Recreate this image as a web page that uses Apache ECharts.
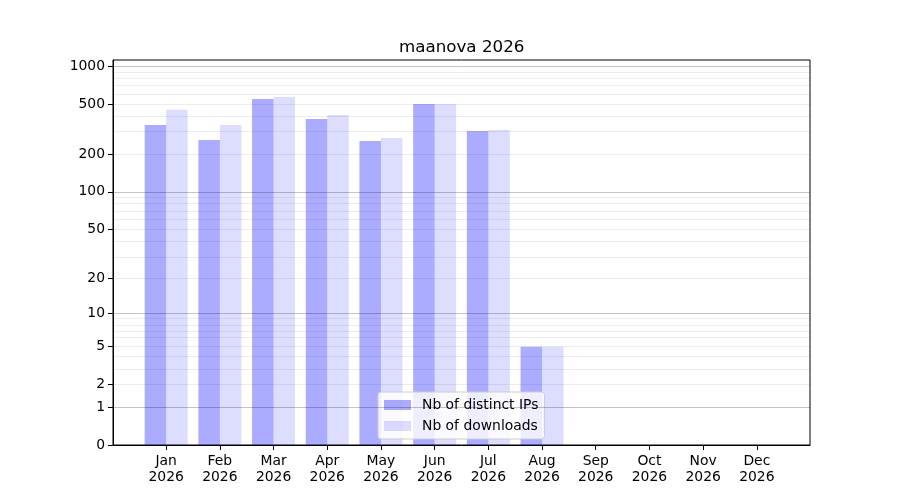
<!DOCTYPE html>
<html>
<head>
<meta charset="utf-8">
<title>maanova 2026</title>
<script src="https://cdn.jsdelivr.net/npm/echarts@6/dist/echarts.min.js"></script>
<style>
  html, body { margin: 0; padding: 0; background: #fff; }
  #chart { width: 900px; height: 500px; }
</style>
</head>
<body>
<div id="chart"></div>
<script>
// months on the x axis
const months = ['Jan', 'Feb', 'Mar', 'Apr', 'May', 'Jun', 'Jul', 'Aug', 'Sep', 'Oct', 'Nov', 'Dec'];
const yearLabel = '2026';

// values
const distinctIps = [341, 259, 548, 380, 254, 500, 305, 5, 0, 0, 0, 0];
const downloads = [449, 341, 568, 409, 269, 500, 311, 5, 0, 0, 0, 0];

// y tick labels and grid lines (raw values, axis is log10(1 + v))
const yTicks = [0, 1, 2, 5, 10, 20, 50, 100, 200, 500, 1000];
const majorGrid = [1, 10, 100, 1000];
const minorGrid = [2, 3, 4, 5, 6, 7, 8, 9, 20, 30, 40, 50, 60, 70, 80, 90,
                   200, 300, 400, 500, 600, 700, 800, 900];

// scale helpers
const toAxis = v => Math.log10(1 + v);
const fromAxis = v => Math.round(Math.pow(10, v) - 1);

const font = 'DejaVu Sans';
const chart = echarts.init(document.getElementById('chart'));

// translucent so they darken the bars a little, like the original
const gridLines = [
  ...minorGrid.map(v => ({ yAxis: toAxis(v), lineStyle: { color: 'rgba(0,0,0,0.075)', width: 1, type: 'solid' } })),
  ...majorGrid.map(v => ({ yAxis: toAxis(v), lineStyle: { color: 'rgba(0,0,0,0.23)', width: 1, type: 'solid' } }))
];

const option = {
  animation: false,
  textStyle: { fontFamily: font },
  title: {
    text: 'maanova 2026',
    left: 394,
    top: 34,
    textStyle: { fontFamily: font, fontSize: 16.7, fontWeight: 'normal', color: '#000' }
  },
  grid: {
    left: 113, right: 90, top: 60, bottom: 55,
    show: true, borderColor: '#000', borderWidth: 1, backgroundColor: 'transparent'
  },
  legend: {
    orient: 'vertical',
    left: 378,
    top: 392,
    icon: 'rect',
    itemWidth: 27,
    itemHeight: 10,
    itemGap: 7,
    padding: [6, 6, 6, 6],
    borderColor: '#cccccc',
    borderWidth: 1,
    borderRadius: 3,
    backgroundColor: 'rgba(255,255,255,0.8)',
    textStyle: { fontFamily: font, fontSize: 13.9, color: '#000', padding: [0, 0, 0, 6] },
    data: ['Nb of distinct IPs', 'Nb of downloads']
  },
  xAxis: {
    type: 'value',
    min: -0.99,
    max: 11.99,
    splitLine: { show: false },
    axisLine: { show: true, onZero: false, lineStyle: { color: '#000', width: 1 } },
    axisTick: {
      show: true, length: 5, inside: false,
      customValues: months.map((m, i) => i),
      lineStyle: { color: '#000' }
    },
    axisLabel: {
      customValues: months.map((m, i) => i),
      formatter: v => months[Math.round(v)] + '\n' + yearLabel,
      fontFamily: font, fontSize: 13.9, color: '#000', lineHeight: 16, margin: 8
    }
  },
  yAxis: {
    type: 'value',
    min: 0,
    max: 3.048,
    splitLine: { show: false },
    axisLine: { show: true, onZero: false, lineStyle: { color: '#000', width: 1 } },
    axisTick: {
      show: true, length: 5, inside: false,
      customValues: yTicks.map(toAxis),
      lineStyle: { color: '#000' }
    },
    axisLabel: {
      customValues: yTicks.map(toAxis),
      formatter: v => String(fromAxis(v)),
      fontFamily: font, fontSize: 13.9, color: '#000', margin: 8
    }
  },
  series: [
    {
      // only carries the grid lines
      name: 'grid',
      type: 'line',
      data: [],
      silent: true,
      markLine: { symbol: 'none', silent: true, label: { show: false }, data: gridLines }
    },
    {
      name: 'Nb of distinct IPs',
      type: 'bar',
      barWidth: 21.5,
      barGap: '0%',
      itemStyle: { color: 'rgba(0,0,255,0.33)' },
      data: distinctIps.map((v, i) => [i, toAxis(v)])
    },
    {
      name: 'Nb of downloads',
      type: 'bar',
      barWidth: 21.5,
      barGap: '0%',
      itemStyle: { color: 'rgba(0,0,255,0.135)' },
      data: downloads.map((v, i) => [i, toAxis(v)])
    }
  ]
};

chart.setOption(option);
</script>
</body>
</html>
